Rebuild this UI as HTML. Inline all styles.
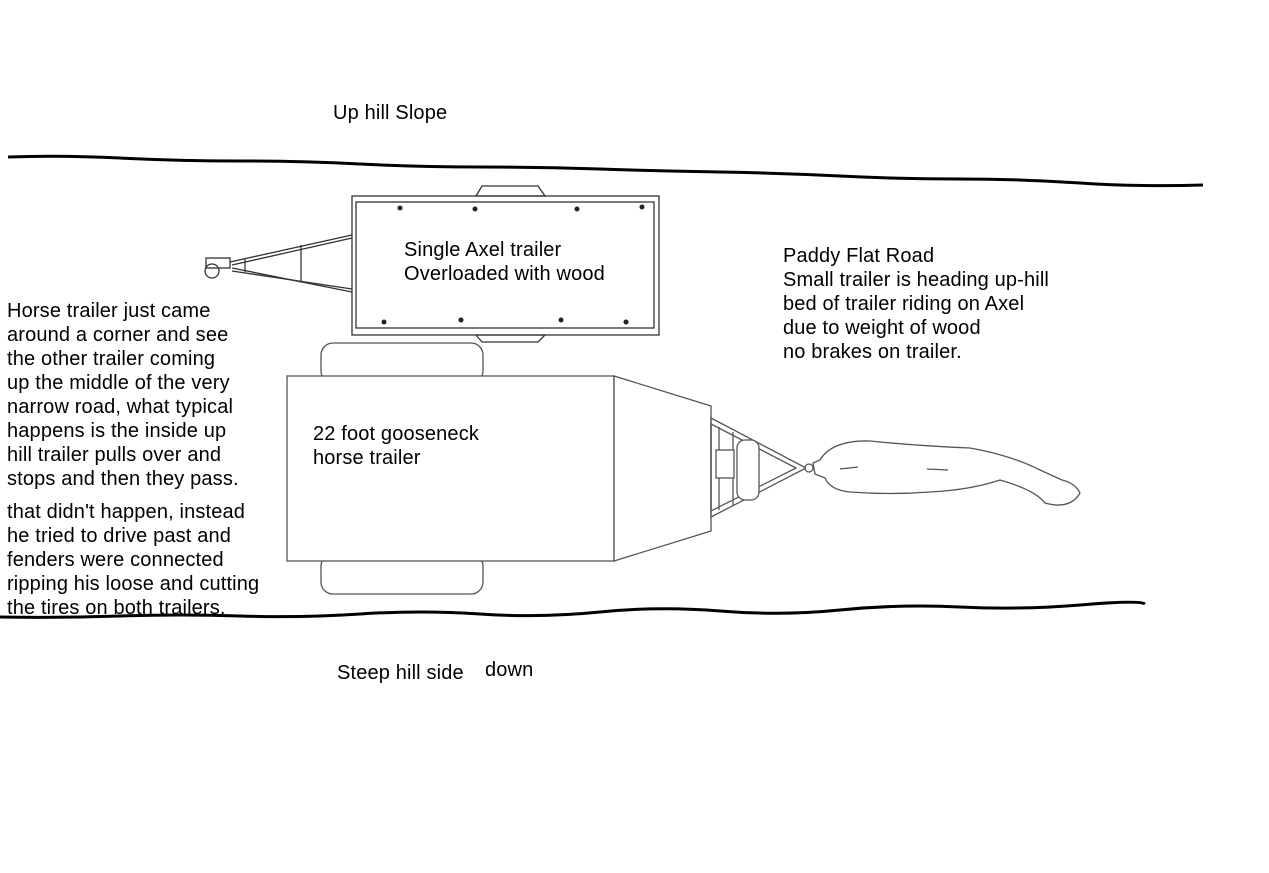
<!DOCTYPE html>
<html><head><meta charset="utf-8"><style>
html,body{margin:0;padding:0;background:#fff;}
svg{display:block}
text{font-family:"Liberation Sans",Arial,sans-serif;font-size:20px;letter-spacing:0.15px;fill:#000}
</style></head><body>
<svg width="1269" height="873" viewBox="0 0 1269 873" xmlns="http://www.w3.org/2000/svg">
<rect width="1269" height="873" fill="#fff"/>
<path d="M8 157 Q60 155 120 158 T240 161 T360 164 T480 167 T600 169 T720 172 T840 176 T960 179 T1080 183 T1203 185" fill="none" stroke="#000" stroke-width="3"/>
<path d="M0 617 Q60 618 120 616 T240 616 T360 614 T480 614 T600 612 T720 611 T840 610 T960 607 T1080 605 T1145 604" fill="none" stroke="#000" stroke-width="3"/>
<g fill="none" stroke="#333" stroke-width="1.3">
<polygon points="476,196 482,186 538,186 545,196"/>
<polygon points="476,335 482,342 538,342 545,335"/>
<rect x="352" y="196" width="307" height="139"/>
<rect x="356" y="202" width="298" height="126"/>
<line x1="352" y1="235" x2="230" y2="262"/>
<line x1="352" y1="238" x2="232" y2="265"/>
<line x1="352" y1="292" x2="232" y2="268"/>
<line x1="352" y1="289" x2="232" y2="271"/>
<line x1="301" y1="245" x2="301" y2="282"/>
<line x1="245" y1="259" x2="245" y2="272"/>
<rect x="206" y="258" width="24" height="10"/>
<circle cx="212" cy="271" r="7"/>
</g>
<g fill="#222">
<circle cx="400" cy="208" r="2.5"/><circle cx="475" cy="209" r="2.5"/><circle cx="577" cy="209" r="2.5"/><circle cx="642" cy="207" r="2.5"/>
<circle cx="384" cy="322" r="2.5"/><circle cx="461" cy="320" r="2.5"/><circle cx="561" cy="320" r="2.5"/><circle cx="626" cy="322" r="2.5"/>
</g>
<g fill="#fff" stroke="#555" stroke-width="1.3">
<rect x="321" y="343" width="162" height="40" rx="12"/>
<rect x="321" y="554" width="162" height="40" rx="12"/>
<rect x="287" y="376" width="327" height="185"/>
<polygon points="614,376 711,406 711,531 614,561"/>
<polygon points="711,418 806,468 711,517" fill="none"/>
<polygon points="711,424 796,468 711,511" fill="none"/>
<line x1="719" y1="427" x2="719" y2="510"/><line x1="733" y1="432" x2="733" y2="505"/>
<rect x="716" y="450" width="18" height="28"/>
<rect x="737" y="440" width="22" height="60" rx="8"/>
<circle cx="809" cy="468" r="4"/>
<path d="M813 463 L820 460 Q832 440 870 441 Q920 446 970 448 Q1010 455 1040 470 L1062 480 Q1075 483 1080 493 Q1070 510 1045 503 Q1035 490 1000 480 Q970 490 930 492 Q890 495 850 492 Q830 490 825 478 L815 474 Z" fill="none"/>
<line x1="840" y1="469" x2="858" y2="467"/><line x1="927" y1="469" x2="948" y2="470"/>
</g>
<text x="333" y="119">Up hill Slope</text>
<text x="404" y="256">Single Axel trailer</text>
<text x="404" y="280">Overloaded with wood</text>
<text x="783" y="262">Paddy Flat Road</text>
<text x="783" y="286">Small trailer is heading up-hill</text>
<text x="783" y="310">bed of trailer riding on Axel</text>
<text x="783" y="334">due to weight of wood</text>
<text x="783" y="358">no brakes on trailer.</text>
<text x="313" y="440">22 foot gooseneck</text>
<text x="313" y="464">horse trailer</text>
<text x="7" y="317">Horse trailer just came</text>
<text x="7" y="341">around a corner and see</text>
<text x="7" y="365">the other trailer coming</text>
<text x="7" y="389">up the middle of the very</text>
<text x="7" y="413">narrow road, what typical</text>
<text x="7" y="437">happens is the inside up</text>
<text x="7" y="461">hill trailer pulls over and</text>
<text x="7" y="485">stops and then they pass.</text>
<text x="7" y="518">that didn't happen, instead</text>
<text x="7" y="542">he tried to drive past and</text>
<text x="7" y="566">fenders were connected</text>
<text x="7" y="590">ripping his loose and cutting</text>
<text x="7" y="614">the tires on both trailers.</text>
<text x="337" y="679">Steep hill side</text>
<text x="485" y="676">down</text>
</svg>
</body></html>
